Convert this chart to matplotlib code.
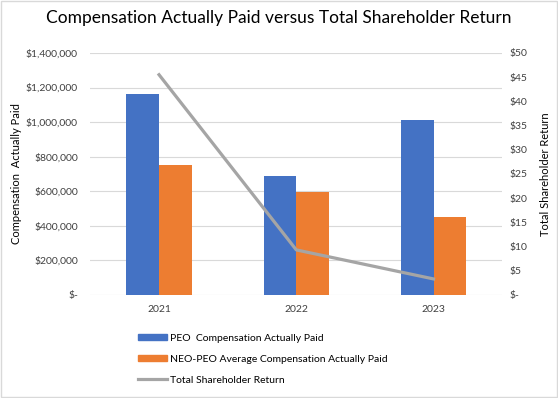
import numpy as np
import matplotlib
matplotlib.use("Agg")
import matplotlib.pyplot as plt
from matplotlib.ticker import FuncFormatter
from matplotlib.lines import Line2D
from matplotlib.patches import Patch, Rectangle

plt.rcParams['font.family'] = ['Lato', 'DejaVu Sans']

years = ['2021', '2022', '2023']
peo_cap = [1165000, 690000, 1010000]
neo_cap = [752000, 595000, 452000]
tsr = [45.5, 9.3, 3.3]

blue = '#4472C4'
orange = '#ED7D31'
gray = '#A5A5A5'
txt = '#404040'

fig = plt.figure(figsize=(5.58, 3.98), dpi=100)
ax = fig.add_axes([0.162, 0.259, 0.738, 0.608])
ax2 = ax.twinx()

x = np.arange(len(years))
w = 0.237
ax.bar(x - w / 2, peo_cap, w, color=blue, zorder=2)
ax.bar(x + w / 2, neo_cap, w, color=orange, zorder=2)
ax2.plot(x, tsr, color=gray, lw=2.3, zorder=3)

ax.set_xlim(-0.5, 2.5)
ax.set_ylim(0, 1400000)
ax.set_yticks(np.arange(0, 1400001, 200000))
ax2.set_ylim(0, 50)
ax2.set_yticks(np.arange(0, 51, 5))

def money(v, pos):
    return '$-' if v == 0 else '${:,.0f}'.format(v)

ax.yaxis.set_major_formatter(FuncFormatter(money))
ax2.yaxis.set_major_formatter(FuncFormatter(money))

ax.grid(axis='y', color='#d9d9d9', lw=0.8, zorder=0)
ax.set_axisbelow(True)
for a in (ax, ax2):
    for s in a.spines.values():
        s.set_visible(False)
    a.tick_params(length=0, labelsize=7.5, colors=txt)
ax.set_xticks(x)
ax.set_xticklabels(years)
ax.tick_params(axis='x', pad=7)
ax.tick_params(axis='y', pad=9)
ax2.tick_params(axis='y', pad=5)

ax.set_ylabel('Compensation  Actually Paid', fontsize=8, color='black', labelpad=3)
ax2.set_ylabel('Total Shareholder Return', fontsize=8, color='black', labelpad=9)

fig.text(0.5, 0.955, 'Compensation Actually Paid versus Total Shareholder Return',
         ha='center', va='center', fontsize=12.5, color='black')

handles = [Patch(color=blue), Patch(color=orange), Line2D([], [], color=gray, lw=2.3)]
labels = ['PEO  Compensation Actually Paid',
          'NEO-PEO Average Compensation Actually Paid',
          'Total Shareholder Return']
fig.legend(handles, labels, loc='upper left', bbox_to_anchor=(0.24, 0.172),
           frameon=False, fontsize=7.5, handlelength=2.8, handleheight=0.6,
           labelspacing=1.15, handletextpad=0.3, borderaxespad=0)

fig.patches.append(Rectangle((0.002, 0.002), 0.996, 0.995, transform=fig.transFigure,
                             fill=False, edgecolor='#d9d9d9', lw=1))

fig.savefig('out.png', dpi=100)
